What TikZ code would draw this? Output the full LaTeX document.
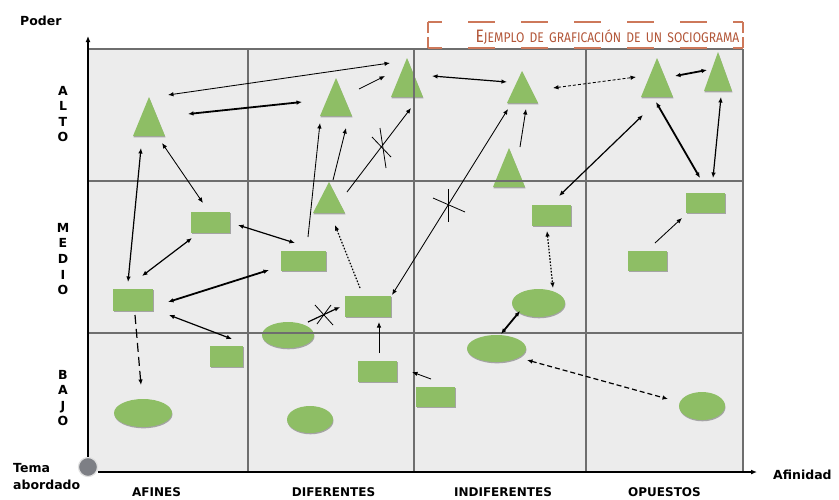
\documentclass[tikz,border=0pt]{standalone}
\usepackage{fontspec}
\setmainfont{DejaVu Sans}
\newfontfamily\titlefont{Fira Sans}
\usetikzlibrary{arrows.meta,shadows,shapes.geometric}
\definecolor{shapegreen}{RGB}{142,190,101}
\definecolor{cellbg}{RGB}{236,236,236}
\definecolor{gridc}{RGB}{110,110,110}
\definecolor{titlec}{RGB}{178,86,56}
\definecolor{boxc}{RGB}{205,120,90}
\definecolor{temac}{RGB}{125,127,133}
\begin{document}
\begin{tikzpicture}[x=1pt,y=-1pt,
  lab/.style={font=\bfseries\fontsize{12}{14}\selectfont, inner sep=0},
  vlab/.style={font=\bfseries\fontsize{12.5}{15.6}\selectfont, inner sep=0, align=center},
  shp/.style={fill=shapegreen, draw=none, drop shadow={shadow xshift=0.5pt, shadow yshift=-1.3pt, fill=black, opacity=0.3}},
  rbox/.style={shp, rectangle, inner sep=0, minimum width=39pt, minimum height=21pt},
  ell/.style={shp, ellipse, inner sep=0},
  gridline/.style={draw=gridc, line width=1.1pt},
  axisline/.style={draw=black, line width=1.8pt},
  conn/.style={draw=black, line width=0.85pt},
  mid/.style={conn, line width=1.2pt},
  heavy/.style={conn, line width=1.8pt},
  one/.style={-{Latex[length=5.5pt,width=4.5pt]}},
  two/.style={{Latex[length=5.5pt,width=4.5pt]}-{Latex[length=5.5pt,width=4.5pt]}},
  shortdash/.style={dash pattern=on 3pt off 2pt},
  meddash/.style={dash pattern=on 5pt off 3pt},
  longdash/.style={dash pattern=on 9pt off 5pt},
  dots/.style={dash pattern=on 1.6pt off 1.6pt},
  crossmark/.style={draw=black, line width=0.8pt},
  trishape/.style={shp}
]
\useasboundingbox (0,0) rectangle (839,499);
% background cells
\fill[cellbg] (88,49) rectangle (743,472);

% triangles
\path[trishape] (133,136) -- (149,97) -- (165,136) -- cycle; \coordinate (T1) at (149,123);
\path[trishape] (320,116) -- (336,78) -- (352,116) -- cycle; \coordinate (T2) at (336,103);
\path[trishape] (391,97) -- (407,58) -- (423,97) -- cycle; \coordinate (T3) at (407,84);
\path[trishape] (507,103) -- (522,71) -- (538,103) -- cycle; \coordinate (T4) at (522,92);
\path[trishape] (493,187) -- (509,148) -- (525,187) -- cycle; \coordinate (T5) at (509,174);
\path[trishape] (641,97) -- (657,58) -- (673,97) -- cycle; \coordinate (T6) at (657,84);
\path[trishape] (704,91) -- (718,52) -- (732,91) -- cycle; \coordinate (T7) at (718,78);
\path[trishape] (313,213) -- (329,182) -- (345,213) -- cycle; \coordinate (T8) at (329,203);

% rectangles
\node[rbox] (R1) at (210.5,222.5) {};
\node[rbox, minimum width=40pt, minimum height=22pt] (R2) at (133,300) {};
\node[rbox, minimum width=45pt, minimum height=20pt] (R3) at (303.5,261) {};
\node[rbox, minimum width=46pt] (R4) at (368,306.5) {};
\node[rbox] (R5) at (551.5,215.5) {};
\node[rbox, minimum height=20pt] (R6) at (705.5,203) {};
\node[rbox, minimum height=20pt] (R7) at (647.5,261) {};
\node[rbox, minimum width=33pt] (R8) at (226.5,356.5) {};
\node[rbox] (R9) at (377.5,371.5) {};
\node[rbox, minimum height=20pt] (R10) at (435.5,397) {};

% ellipses
\node[ell, minimum width=58pt, minimum height=28pt] (E1) at (143,413) {};
\node[ell, minimum width=52pt, minimum height=26pt] (E2) at (288,335) {};
\node[ell, minimum width=46pt, minimum height=27pt] (E3) at (310,419.5) {};
\node[ell, minimum width=59pt, minimum height=27pt] (E4) at (496.5,348.5) {};
\node[ell, minimum width=53pt, minimum height=28pt] (E5) at (538.5,303) {};
\node[ell, minimum width=46pt, minimum height=28pt] (E6) at (702,406) {};

% grid lines
\draw[gridline] (88,49) -- (743,49);
\draw[gridline] (88,181) -- (743,181);
\draw[gridline] (88,333) -- (743,333);
\draw[gridline] (248,49) -- (248,472);
\draw[gridline] (414,49) -- (414,472);
\draw[gridline] (586,49) -- (586,472);
\draw[gridline] (743,49) -- (743,472);

% title box
\draw[boxc, line width=1.1pt, dash pattern=on 27pt off 26pt, dash phase=13pt] (428,22) -- (743,22);
\draw[boxc, line width=1.1pt, dash pattern=on 27pt off 26pt, dash phase=13pt] (428,48) -- (743,48);
\draw[boxc, line width=1.1pt, dash pattern=on 11pt off 4pt] (428,22) -- (428,48);
\draw[boxc, line width=1.1pt, dash pattern=on 11pt off 4pt] (743,22) -- (743,48);
\node[anchor=base, inner sep=0, text=titlec] (title) at (607.5,42)
  {\titlefont\scalebox{0.865}[1]{\fontsize{18}{18}\selectfont E\fontsize{14}{14}\selectfont JEMPLO\, DE\, GRAFICACIÓN\, DE\, UN\, SOCIOGRAMA}};

% tema circle and axes
\node[circle, fill=temac, draw=black!12, line width=1.2pt, minimum size=19pt, inner sep=0] (tema) at (88,467) {};
\coordinate (ytop) at (88,36);
\coordinate (xend) at (757,472);
\draw[axisline, -{Latex[length=6pt,width=5pt]}] (tema.north) -- (ytop);
\draw[axisline, -{Latex[length=6pt,width=5pt]}] (tema.east |- xend) -- (xend);

% labels
\node[lab, anchor=base west, font=\bfseries\fontsize{12.5}{14}\selectfont] (poder) at (20,25) {Poder};
\node[lab, anchor=base west, font=\bfseries\fontsize{12.5}{14}\selectfont] (afin) at (773,479) {Afinidad};
\node[lab, anchor=base west, font=\bfseries\fontsize{12.5}{14}\selectfont] (tema1) at (13,472) {Tema};
\node[lab, anchor=base west, font=\bfseries\fontsize{12.5}{14}\selectfont] (tema2) at (13,489) {abordado};
\node[lab, anchor=base] (c1) at (156.5,496) {AFINES};
\node[lab, anchor=base] (c2) at (333.5,496) {DIFERENTES};
\node[lab, anchor=base] (c3) at (503,496) {INDIFERENTES};
\node[lab, anchor=base] (c4) at (664.5,496) {OPUESTOS};
\node[vlab] (r1) at (63,114) {A\\L\\T\\O};
\node[vlab] (r2) at (63,259) {M\\E\\D\\I\\O};
\node[vlab] (r3) at (63,398) {B\\A\\J\\O};

% connector end points
\coordinate (a1s) at (168,95);  \coordinate (a1e) at (390,63);
\coordinate (a2s) at (188,114); \coordinate (a2e) at (302,102);
\coordinate (a3s) at (359,89);  \coordinate (a3e) at (385,76);
\coordinate (a4s) at (432,76);  \coordinate (a4e) at (507,82);
\coordinate (a5s) at (553,88);  \coordinate (a5e) at (636,77);
\coordinate (a6s) at (675,76);  \coordinate (a6e) at (707,70);
\coordinate (a7s) at (656,102); \coordinate (a7e) at (700,178);
\coordinate (a8s) at (721,97);  \coordinate (a8e) at (713,178);
\coordinate (a9s) at (559,196); \coordinate (a9e) at (643,115);
\coordinate (a10s) at (655,243); \coordinate (a10e) at (682,218);
\coordinate (a11s) at (520,147); \coordinate (a11e) at (526,109);
\coordinate (a12s) at (392,295); \coordinate (a12e) at (508,109);
\coordinate (a13s) at (347,192); \coordinate (a13e) at (411,108);
\coordinate (a14s) at (308,237); \coordinate (a14e) at (320,123);
\coordinate (a15s) at (333,180); \coordinate (a15e) at (346,128);
\coordinate (a16s) at (360,288); \coordinate (a16e) at (335,225);
\coordinate (a17s) at (308,322); \coordinate (a17e) at (340,307);
\coordinate (a18s) at (379,353); \coordinate (a18e) at (379,322);
\coordinate (a19s) at (431,379); \coordinate (a19e) at (412,372);
\coordinate (a20s) at (527,360); \coordinate (a20e) at (668,399);
\coordinate (a21s) at (501,334); \coordinate (a21e) at (520,311);
\coordinate (a22s) at (547,231); \coordinate (a22e) at (553,288);
\coordinate (a23s) at (141,148); \coordinate (a23e) at (128,282);
\coordinate (a24s) at (162,143); \coordinate (a24e) at (203,203);
\coordinate (a25s) at (142,276); \coordinate (a25e) at (192,238);
\coordinate (a26s) at (238,225); \coordinate (a26e) at (295,243);
\coordinate (a27s) at (168,302); \coordinate (a27e) at (269,270);
\coordinate (a28s) at (169,315); \coordinate (a28e) at (232,339);
\coordinate (a29s) at (135,315); \coordinate (a29e) at (141,385);

% connectors
\draw[conn, two] (a1s) -- (a1e);
\draw[heavy, two] (a2s) -- (a2e);
\draw[conn, one] (a3s) -- (a3e);
\draw[mid, two] (a4s) -- (a4e);
\draw[conn, two, shortdash] (a5s) -- (a5e);
\draw[heavy, two] (a6s) -- (a6e);
\draw[heavy, two] (a7s) -- (a7e);
\draw[mid, two] (a8s) -- (a8e);
\draw[mid, two] (a9s) -- (a9e);
\draw[conn, one] (a10s) -- (a10e);
\draw[conn, one] (a11s) -- (a11e);
\draw[conn, two] (a12s) -- (a12e);
\draw[conn, one] (a13s) -- (a13e);
\draw[conn, one] (a14s) -- (a14e);
\draw[conn, one] (a15s) -- (a15e);
\draw[mid, one, dots] (a16s) -- (a16e);
\draw[mid, one] (a17s) -- (a17e);
\draw[conn, one] (a18s) -- (a18e);
\draw[conn, one] (a19s) -- (a19e);
\draw[mid, two, meddash] (a20s) -- (a20e);
\draw[heavy, two] (a21s) -- (a21e);
\draw[mid, two, dots] (a22s) -- (a22e);
\draw[mid, two] (a23s) -- (a23e);
\draw[conn, two] (a24s) -- (a24e);
\draw[mid, two] (a25s) -- (a25e);
\draw[mid, two] (a26s) -- (a26e);
\draw[heavy, two] (a27s) -- (a27e);
\draw[mid, two] (a28s) -- (a28e);
\draw[mid, one, longdash] (a29s) -- (a29e);

% cross marks
\draw[crossmark] (448,189) -- (448,222);
\draw[crossmark] (433,198) -- (465,212);
\draw[crossmark] (372,137) -- (391,157);
\draw[crossmark] (380,128) -- (386,168);
\draw[crossmark] (315,305) -- (333,325);
\draw[crossmark] (317,324) -- (331,305);
\end{tikzpicture}
\end{document}
